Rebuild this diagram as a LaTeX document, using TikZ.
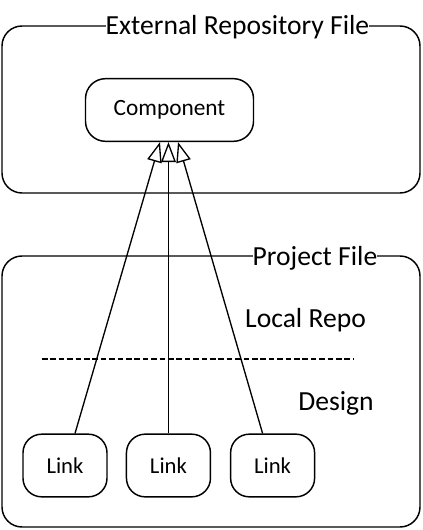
\documentclass[tikz,border=0pt]{standalone}
\usepackage{fontspec}
\setmainfont{Carlito}
\usetikzlibrary{positioning, arrows.meta, calc}

\begin{document}
\begin{tikzpicture}[x=0.75pt, y=-0.75pt]
	\useasboundingbox (0,0) rectangle (422,530);
	% Contenitori
	\draw[line width=1.1pt, rounded corners=15pt] (2,26) rectangle (420,193);
	\node[fill=white, inner xsep=0pt, inner ysep=1pt, anchor=base, font=\fontsize{20.7}{24}\selectfont] (ext) at (237.5,35) {External Repository File};
	\draw[line width=1.1pt, rounded corners=15pt] (2,256) rectangle (420,527);
	\node[fill=white, inner xsep=0pt, inner ysep=1pt, anchor=base, font=\fontsize{20.7}{24}\selectfont] (proj) at (315,265) {Project File};
	
	% Componente
	\node[rectangle, draw, line width=1.1pt, rounded corners=15pt, minimum width=126pt, minimum height=47pt, font=\fontsize{17.5}{20}\selectfont] (comp) at (169.5,110) {Component};
	
	% Sezioni
	\node[anchor=base, font=\fontsize{20.7}{24}\selectfont] (local) at (305.5,327) {Local Repo};
	\coordinate (sepL) at (42,359);
	\coordinate (sepR) at (353,359);
	\draw[line width=0.9pt, dash pattern=on 4.2pt off 2.1pt] (sepL) -- (sepR);
	\node[anchor=base, font=\fontsize{20.7}{24}\selectfont] (design) at (336,410) {Design};
	
	% Link
	\node[rectangle, draw, line width=1.1pt, rounded corners=14pt, minimum width=63pt, minimum height=47pt, font=\fontsize{17}{20}\selectfont] (linka) at (65,465.5) {Link};
	\node[rectangle, draw, line width=1.1pt, rounded corners=14pt, minimum width=63pt, minimum height=47pt, right=13.5pt of linka, font=\fontsize{17}{20}\selectfont] (linkb) {Link};
	\node[rectangle, draw, line width=1.1pt, rounded corners=14pt, minimum width=63pt, minimum height=47pt, right=14pt of linkb, font=\fontsize{17}{20}\selectfont] (linkc) {Link};
	
	% Connessioni
	\draw[line width=1pt, -{Triangle[open, length=15pt, width=11pt]}] ($(linka.north)+(10,0)$) -- ($(comp.south)+(-9.5,0)$);
	\draw[line width=1pt, -{Triangle[open, length=15pt, width=11pt]}] (linkb.north) -- (linkb.north |- comp.south);
	\draw[line width=1pt, -{Triangle[open, length=15pt, width=11pt]}] ($(linkc.north)+(-10,0)$) -- ($(comp.south)+(8.5,0)$);
\end{tikzpicture}
\end{document}
